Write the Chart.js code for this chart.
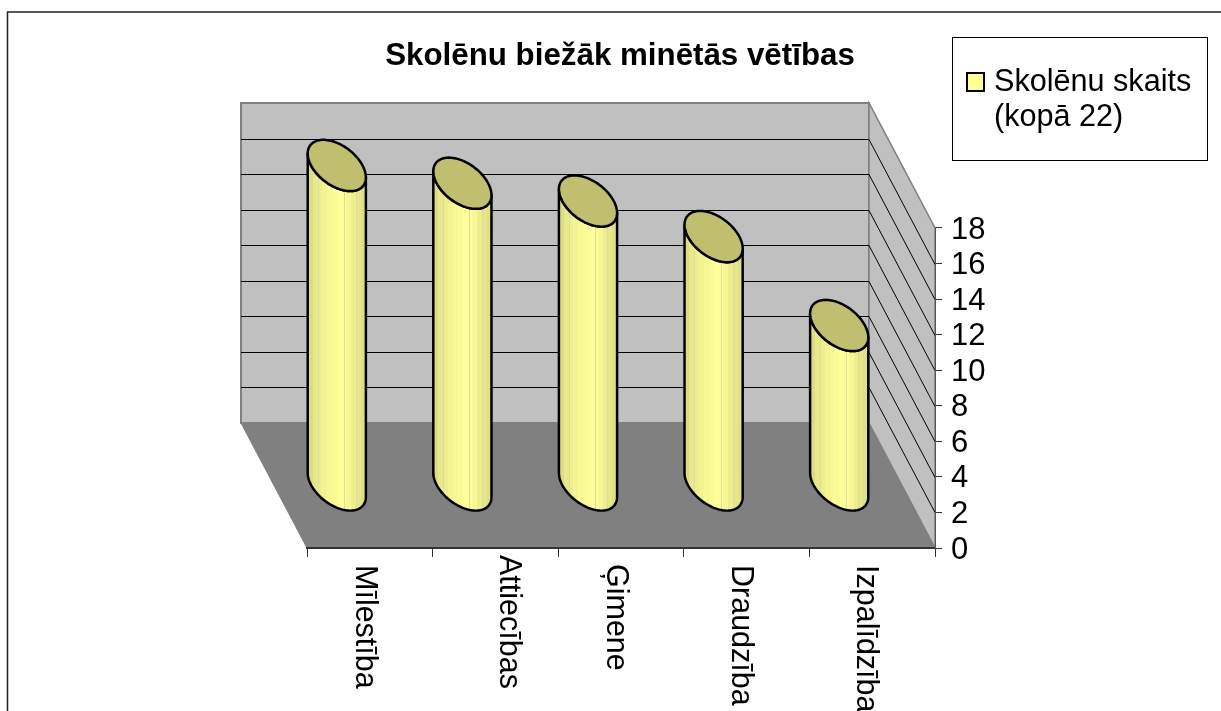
<!DOCTYPE html>
<html>
<head>
<meta charset="utf-8">
<script src="https://cdn.jsdelivr.net/npm/chart.js@4"></script>
<style>
body { margin: 0; background: #fff; }
canvas { display: block; }
</style>
</head>
<body>
<canvas id="myChart" width="1221" height="711"></canvas>
<script>
var categories = ['Mīlestība', 'Attiecības', 'Ģimene', 'Draudzība', 'Izpalīdzība'];
var skolenuSkaits = [18, 17, 16, 14, 9];
var seriesName = ['Skolēnu skaits', '(kopā 22)'];
var chartTitle = 'Skolēnu biežāk minētās vētības';

// excel puts the rotated labels a bit unevenly, nudge them from the tick centre
var labelNudgeX = [-14, 5, -14, -15, -15];
var labelTopY = [565, 555, 564, 565, 565];

var DEPTH_X = -66, DEPTH_Y = -125;
var facetColors = ['#dcdc84', '#e8e88c', '#eeee8f', '#f3f392', '#f8f895', '#fcfc97', '#ffff99', '#ffff99', '#f7f795', '#eeee8f', '#e6e68a', '#e0e086'];
var facetLines = [0.17, 0.62, 0.83];
var FONT = '"Liberation Sans", Arial, sans-serif';

function line(ctx, x1, y1, x2, y2) {
    ctx.beginPath();
    ctx.moveTo(x1, y1);
    ctx.lineTo(x2, y2);
    ctx.stroke();
}

function tracePoly(ctx, pts) {
    ctx.beginPath();
    pts.forEach(function(p, i) {
        if (i == 0) ctx.moveTo(p[0], p[1]); else ctx.lineTo(p[0], p[1]);
    });
    ctx.closePath();
}

function poly(ctx, pts, fill, stroke, width) {
    tracePoly(ctx, pts);
    ctx.fillStyle = fill;
    ctx.fill();
    if (stroke) {
        ctx.strokeStyle = stroke;
        ctx.lineWidth = width;
        ctx.stroke();
    }
}

// the cap is a circle lying on the floor plane, so it comes out as a skewed ellipse
function capOffset(a, t) {
    var c = Math.cos(t), s = Math.sin(t);
    return [a * c + DEPTH_X * 0.205 * s, DEPTH_Y * 0.205 * s];
}

var walls = {
    id: 'walls',
    beforeDraw: function(chart) {
        var ctx = chart.ctx, area = chart.chartArea, y = chart.scales.y;
        var l = area.left, r = area.right, t = area.top, b = area.bottom;
        ctx.save();
        ctx.fillStyle = '#fff';
        ctx.fillRect(0, 0, chart.width, chart.height);
        ctx.strokeStyle = '#222';
        ctx.lineWidth = 1.5;
        ctx.beginPath();
        ctx.moveTo(7.5, chart.height);
        ctx.lineTo(7.5, 12);
        ctx.lineTo(chart.width, 12);
        ctx.stroke();

        poly(ctx, [[l + DEPTH_X, t + DEPTH_Y], [r + DEPTH_X, t + DEPTH_Y], [r + DEPTH_X, b + DEPTH_Y], [l + DEPTH_X, b + DEPTH_Y]], '#c0c0c0', '#808080', 2);
        poly(ctx, [[r + DEPTH_X, t + DEPTH_Y], [r, t], [r, b], [r + DEPTH_X, b + DEPTH_Y]], '#c0c0c0', '#808080', 1.5);
        poly(ctx, [[l + DEPTH_X, b + DEPTH_Y], [r + DEPTH_X, b + DEPTH_Y], [r, b], [l, b]], '#808080', '#808080', 1);

        ctx.strokeStyle = '#000';
        ctx.lineWidth = 1;
        y.ticks.forEach(function(tick) {
            if (tick.value == 0 || tick.value == 18) return;
            var py = Math.round(y.getPixelForValue(tick.value));
            line(ctx, l + DEPTH_X, py + DEPTH_Y + 0.5, r + DEPTH_X, py + DEPTH_Y + 0.5);
            line(ctx, r + DEPTH_X, py + DEPTH_Y + 0.5, r, py + 0.5);
        });
        ctx.restore();
    },
    afterLayout: function(chart) {
        // title is centred over the whole picture part, not only the padded area
        chart.titleBlock.left = 0;
        chart.titleBlock.right = 1240;
    }
};

var cylinders = {
    id: 'cylinders',
    afterDatasetsDraw: function(chart) {
        var ctx = chart.ctx;
        var meta = chart.getDatasetMeta(0);
        ctx.save();
        ctx.lineJoin = 'round';
        meta.data.forEach(function(bar) {
            var a = bar.width / 2;
            var cx = bar.x + DEPTH_X / 2;
            var topY = bar.y + DEPTH_Y / 2;
            var baseY = bar.base + DEPTH_Y / 2;
            var n = 120, i;
            var rim = [];
            for (i = 0; i < n; i++) rim.push(capOffset(a, i / n * 2 * Math.PI));

            // front part of the rim goes from the leftmost to the rightmost point
            var iLeft = 0, iRight = 0;
            rim.forEach(function(p, k) {
                if (p[0] < rim[iLeft][0]) iLeft = k;
                if (p[0] > rim[iRight][0]) iRight = k;
            });
            var front = [];
            for (i = iLeft; i != iRight; i = (i + 1) % n) front.push(rim[i]);
            front.push(rim[iRight]);

            var pts = [];
            front.forEach(function(p) { pts.push([cx + p[0], topY + p[1]]); });
            front.slice().reverse().forEach(function(p) { pts.push([cx + p[0], baseY + p[1]]); });

            var x0 = cx + rim[iLeft][0], x1 = cx + rim[iRight][0];
            var grad = ctx.createLinearGradient(x0, 0, x1, 0);
            facetColors.forEach(function(c, k) {
                grad.addColorStop(k / facetColors.length, c);
                grad.addColorStop((k + 1) / facetColors.length, c);
            });
            poly(ctx, pts, grad);

            ctx.save();
            tracePoly(ctx, pts);
            ctx.clip();
            ctx.strokeStyle = '#dcdca0';
            ctx.lineWidth = 1;
            facetLines.forEach(function(f) {
                var lx = Math.round(x0 + (x1 - x0) * f) + 0.5;
                line(ctx, lx, bar.y + DEPTH_Y, lx, bar.base);
            });
            ctx.restore();

            tracePoly(ctx, pts);
            ctx.strokeStyle = '#000';
            ctx.lineWidth = 2.5;
            ctx.stroke();

            var cap = rim.map(function(p) { return [cx + p[0], topY + p[1]]; });
            poly(ctx, cap, '#bfbf6f', '#000', 2.5);
        });
        ctx.restore();
    },
    afterDraw: function(chart) {
        var ctx = chart.ctx, x = chart.scales.x;
        ctx.save();
        // rotated category labels
        ctx.fillStyle = '#000';
        ctx.font = '30.5px ' + FONT;
        ctx.textAlign = 'left';
        ctx.textBaseline = 'alphabetic';
        categories.forEach(function(name, i) {
            ctx.save();
            ctx.translate(x.getPixelForTick(i) + labelNudgeX[i], labelTopY[i]);
            ctx.rotate(Math.PI / 2);
            ctx.fillText(name, 0, 0);
            ctx.restore();
        });

        // legend box
        ctx.fillStyle = '#fff';
        ctx.strokeStyle = '#000';
        ctx.lineWidth = 1;
        ctx.fillRect(952, 37, 255, 123);
        ctx.strokeRect(952.5, 37.5, 255, 123);
        ctx.fillStyle = '#ffff99';
        ctx.lineWidth = 2;
        ctx.fillRect(967, 73, 17, 18);
        ctx.strokeRect(967, 73, 17, 18);
        ctx.fillStyle = '#000';
        ctx.font = '30.6px ' + FONT;
        ctx.fillText(seriesName[0], 994, 91);
        ctx.fillText(seriesName[1], 994, 126);
        ctx.restore();
    }
};

new Chart(document.getElementById('myChart').getContext('2d'), {
    type: 'bar',
    data: {
        labels: categories,
        datasets: [{
            label: seriesName.join(' '),
            data: skolenuSkaits,
            backgroundColor: 'rgba(0,0,0,0)',
            borderWidth: 0,
            barPercentage: 0.41,
            categoryPercentage: 1
        }]
    },
    options: {
        responsive: false,
        animation: false,
        layout: { padding: { left: 307 } },
        plugins: {
            legend: { display: false },
            tooltip: { enabled: false },
            title: {
                display: true,
                text: chartTitle,
                color: '#000',
                font: { family: FONT, size: 31.3, weight: 'bold', lineHeight: 1.2 },
                padding: { top: 37.4, bottom: 153 }
            }
        },
        scales: {
            x: {
                grid: { offset: true, drawOnChartArea: false, drawTicks: true, tickLength: 9, color: '#333' },
                border: { color: '#333', width: 2 },
                ticks: { display: false },
                afterFit: function(scale) { scale.height = 163; }
            },
            y: {
                position: 'right',
                min: 0,
                max: 18,
                grid: { drawOnChartArea: false, drawTicks: true, tickLength: 7, color: '#333' },
                border: { color: '#555', width: 1 },
                ticks: {
                    stepSize: 2,
                    autoSkip: false,
                    padding: 9,
                    labelOffset: 2,
                    color: '#000',
                    font: { family: FONT, size: 31 }
                },
                afterFit: function(scale) { scale.width = 286; }
            }
        }
    },
    plugins: [walls, cylinders]
});
</script>
</body>
</html>
